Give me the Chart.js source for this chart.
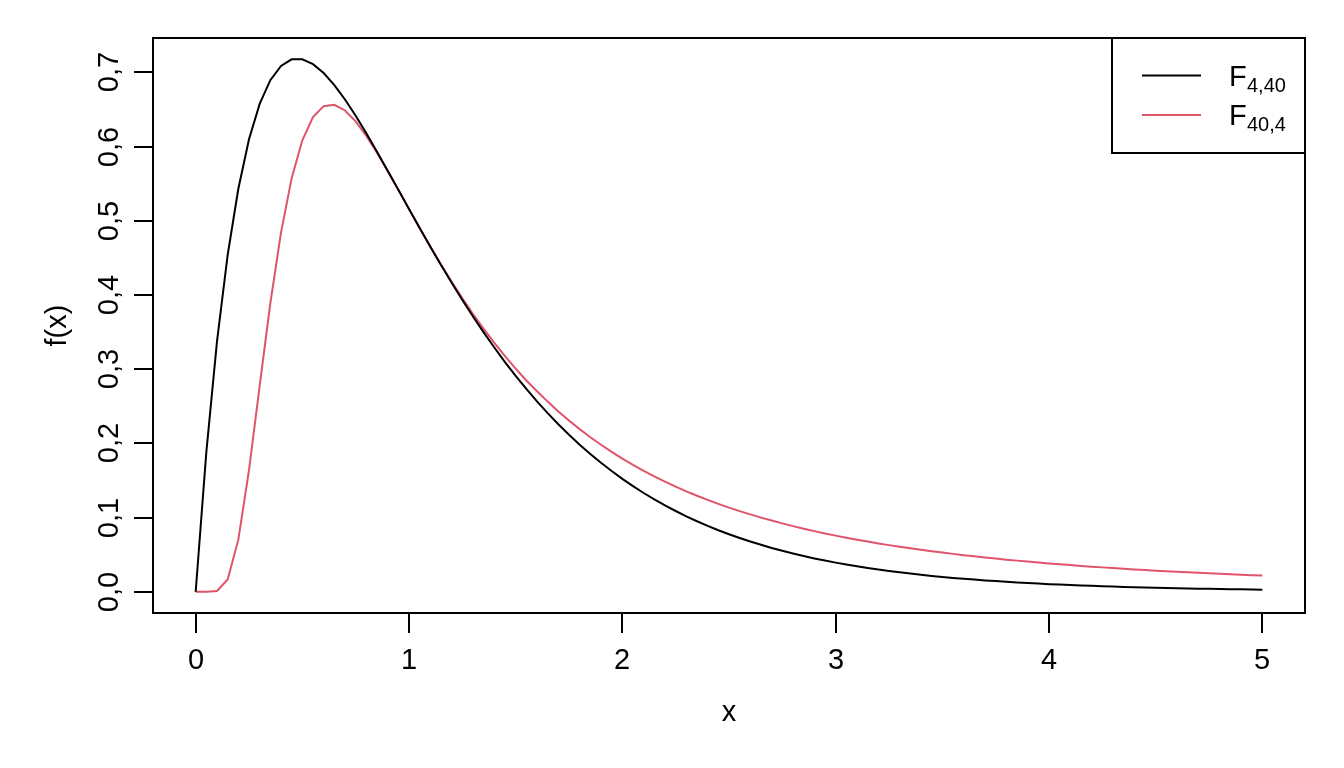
<!DOCTYPE html>
<html>
<head>
<meta charset="utf-8">
<script src="https://cdn.jsdelivr.net/npm/chart.js@4.4.1/dist/chart.umd.min.js"></script>
<style>
  html, body { margin: 0; padding: 0; background: #fff; }
  #wrap { width: 1344px; height: 768px; }
</style>
</head>
<body>
<div id="wrap"><canvas id="myChart" width="1344" height="768"></canvas></div>
<script>
var xValues = [0, 0.05, 0.1, 0.15, 0.2, 0.25, 0.3, 0.35, 0.4, 0.45, 0.5, 0.55, 0.6, 0.65, 0.7, 0.75, 0.8, 0.85, 0.9, 0.95,
  1, 1.05, 1.1, 1.15, 1.2, 1.25, 1.3, 1.35, 1.4, 1.45, 1.5, 1.55, 1.6, 1.65, 1.7, 1.75, 1.8, 1.85, 1.9, 1.95,
  2, 2.05, 2.1, 2.15, 2.2, 2.25, 2.3, 2.35, 2.4, 2.45, 2.5, 2.55, 2.6, 2.65, 2.7, 2.75, 2.8, 2.85, 2.9, 2.95,
  3, 3.05, 3.1, 3.15, 3.2, 3.25, 3.3, 3.35, 3.4, 3.45, 3.5, 3.55, 3.6, 3.65, 3.7, 3.75, 3.8, 3.85, 3.9, 3.95,
  4, 4.05, 4.1, 4.15, 4.2, 4.25, 4.3, 4.35, 4.4, 4.45, 4.5, 4.55, 4.6, 4.65, 4.7, 4.75, 4.8, 4.85, 4.9, 4.95, 5];

// F(4,40)
var f4_40 = [0, 0.1882, 0.3374, 0.4540, 0.5433, 0.6099, 0.6576, 0.6897, 0.7089, 0.7177, 0.7178, 0.7113, 0.6993, 0.6831, 0.6636, 0.6417, 0.6180, 0.5932, 0.5676, 0.5418,
  0.5160, 0.4903, 0.4651, 0.4405, 0.4165, 0.3934, 0.3711, 0.3497, 0.3292, 0.3096, 0.2911, 0.2734, 0.2566, 0.2407, 0.2257, 0.2115, 0.1982, 0.1856, 0.1738, 0.1627,
  0.1522, 0.1423, 0.1331, 0.1244, 0.1163, 0.1088, 0.1016, 0.0950, 0.0888, 0.0829, 0.0775, 0.0724, 0.0676, 0.0632, 0.0590, 0.0551, 0.0515, 0.0481, 0.0449, 0.0420,
  0.0392, 0.0366, 0.0342, 0.0320, 0.0299, 0.0280, 0.0261, 0.0244, 0.0228, 0.0213, 0.0199, 0.0186, 0.0174, 0.0163, 0.0152, 0.0143, 0.0133, 0.0125, 0.0117, 0.0109,
  0.0102, 0.0096, 0.0090, 0.0084, 0.0079, 0.0074, 0.0069, 0.0065, 0.0061, 0.0057, 0.0053, 0.0050, 0.0047, 0.0044, 0.0041, 0.0039, 0.0036, 0.0034, 0.0032, 0.0030, 0.0028];

// F(40,4)
var f40_4 = [0, 0, 0.0010, 0.0164, 0.0702, 0.1639, 0.2775, 0.3889, 0.4842, 0.5576, 0.6086, 0.6398, 0.6546, 0.6565, 0.6488, 0.6341, 0.6146, 0.5919, 0.5673, 0.5418,
  0.5160, 0.4903, 0.4653, 0.4411, 0.4178, 0.3955, 0.3744, 0.3544, 0.3355, 0.3176, 0.3008, 0.2848, 0.2702, 0.2563, 0.2431, 0.2308, 0.2192, 0.2083, 0.1981, 0.1885,
  0.1795, 0.1710, 0.1630, 0.1554, 0.1483, 0.1417, 0.1353, 0.1294, 0.1238, 0.1184, 0.1134, 0.1087, 0.1042, 0.0999, 0.0959, 0.0921, 0.0884, 0.0850, 0.0817, 0.0786,
  0.0756, 0.0728, 0.0701, 0.0676, 0.0651, 0.0628, 0.0606, 0.0585, 0.0565, 0.0546, 0.0527, 0.0510, 0.0493, 0.0477, 0.0461, 0.0447, 0.0432, 0.0419, 0.0406, 0.0393,
  0.0381, 0.0370, 0.0359, 0.0348, 0.0338, 0.0328, 0.0319, 0.0310, 0.0301, 0.0292, 0.0284, 0.0277, 0.0269, 0.0262, 0.0255, 0.0248, 0.0241, 0.0235, 0.0229, 0.0223, 0.0217];

var xTicks = [0, 1, 2, 3, 4, 5];
var xTickLabels = ['0', '1', '2', '3', '4', '5'];
var yTicks = [0, 0.1, 0.2, 0.3, 0.4, 0.5, 0.6, 0.7];
var yTickLabels = ['0,0', '0,1', '0,2', '0,3', '0,4', '0,5', '0,6', '0,7'];
var legendMain = ['F', 'F'];
var legendSub = ['4,40', '40,4'];

var FONT = '"Liberation Sans", Arial, sans-serif';

function toPoints(ys) {
    return xValues.map(function(x, i){ return {x: x, y: ys[i]}; });
}

// R style box, axes and legend
var rBase = {
    id: 'rBase',
    afterDraw: function(chart) {
        var c = chart.ctx, a = chart.chartArea;
        var sx = chart.scales.x, sy = chart.scales.y;
        c.save();
        c.strokeStyle = '#000';
        c.lineWidth = 2;
        c.strokeRect(a.left, a.top, a.right - a.left, a.bottom - a.top);

        c.fillStyle = '#000';
        c.font = '29px ' + FONT;
        c.textAlign = 'center';
        c.textBaseline = 'middle';
        xTicks.forEach(function(v, i){
            var px = Math.round(sx.getPixelForValue(v));
            c.beginPath();
            c.moveTo(px, a.bottom);
            c.lineTo(px, a.bottom + 20);
            c.stroke();
            c.fillText(xTickLabels[i], px, a.bottom + 48);
        });
        yTicks.forEach(function(v, i){
            var py = Math.round(sy.getPixelForValue(v));
            c.beginPath();
            c.moveTo(a.left, py);
            c.lineTo(a.left - 19, py);
            c.stroke();
            c.save();
            c.translate(a.left - 43, py);
            c.rotate(-Math.PI / 2);
            c.fillText(yTickLabels[i], 0, 0);
            c.restore();
        });

        c.fillText('x', (a.left + a.right) / 2, 713);
        c.save();
        c.translate(58, (a.top + a.bottom) / 2);
        c.rotate(-Math.PI / 2);
        c.fillText('f(x)', 0, 0);
        c.restore();

        // legend
        var lx = 1112, ly = a.top, lw = a.right - lx, lh = 115;
        c.fillStyle = '#fff';
        c.fillRect(lx, ly, lw, lh);
        c.strokeRect(lx, ly, lw, lh);
        var rows = [75.5, 115];
        chart.data.datasets.forEach(function(ds, i){
            c.strokeStyle = ds.borderColor;
            c.lineWidth = 2;
            c.beginPath();
            c.moveTo(1142, rows[i]);
            c.lineTo(1201, rows[i]);
            c.stroke();
            c.fillStyle = '#000';
            c.textAlign = 'left';
            c.textBaseline = 'alphabetic';
            c.font = '29px ' + FONT;
            c.fillText(legendMain[i], 1229, rows[i] + 10);
            c.font = '20px ' + FONT;
            c.fillText(legendSub[i], 1247, rows[i] + 16);
        });
        c.restore();
    }
};

window.onload = function(){
    var ctx = document.getElementById('myChart').getContext('2d');
    window.myChart = new Chart(ctx, {
        type: 'line',
        data: {
            datasets: [{
                label: 'F4,40',
                data: toPoints(f4_40),
                borderColor: '#000000',
                borderWidth: 2,
                pointRadius: 0,
                tension: 0,
                fill: false
            }, {
                label: 'F40,4',
                data: toPoints(f40_4),
                borderColor: '#DF536B',
                borderWidth: 2,
                pointRadius: 0,
                tension: 0,
                fill: false
            }]
        },
        options: {
            responsive: false,
            animation: false,
            events: [],
            layout: {
                padding: { left: 153, top: 38, right: 39, bottom: 155 }
            },
            plugins: {
                legend: { display: false },
                tooltip: { enabled: false }
            },
            scales: {
                x: { type: 'linear', min: -0.2, max: 5.2, display: false },
                y: { type: 'linear', min: -0.02871, max: 0.74651, display: false }
            }
        },
        plugins: [rBase]
    });
}
</script>
</body>
</html>
